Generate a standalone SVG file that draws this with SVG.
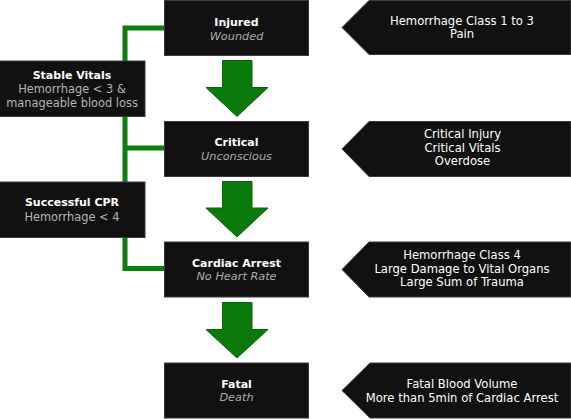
<svg xmlns="http://www.w3.org/2000/svg" width="571" height="419" viewBox="0 0 571 419">
<style>
.box{fill:#111111;stroke:#3a3a3a;stroke-width:1}
.t{font-family:"DejaVu Sans",sans-serif;font-size:11px;font-weight:bold;fill:#ffffff;text-anchor:middle}
.s{font-family:"DejaVu Sans",sans-serif;font-size:11.3px;font-style:italic;fill:#aaaaaa;text-anchor:middle}
.g{font-family:"DejaVu Sans",sans-serif;font-size:11.4px;fill:#b4b4b4;text-anchor:middle}
.w{font-family:"DejaVu Sans",sans-serif;font-size:11.6px;fill:#ffffff;text-anchor:middle}
.line{fill:none;stroke:#0b7f0b;stroke-width:5}
.arrow{fill:#0b790b;stroke:#0a640a;stroke-width:1}
</style>
<rect width="571" height="419" fill="#ffffff"/>
<g id="connectors">
<path class="line" d="M164 28 H125 V268.5 H164 M125 148 H164"/>
<polygon class="arrow" points="222.5,60.5 252,60.5 252,87.5 268,87.5 237,116.5 206,87.5 222.5,87.5"/>
<polygon class="arrow" points="222.5,181.5 252,181.5 252,208 268,208 237,237 206,208 222.5,208"/>
<polygon class="arrow" points="222.5,302.5 252,302.5 252,329.5 268,329.5 237,358 206,329.5 222.5,329.5"/>
</g>
<g id="injured">
<rect class="box" x="164.5" y="0.5" width="144" height="55"/>
<text class="t" x="236.5" y="26">Injured</text>
<text class="s" x="236.5" y="39.5">Wounded</text>
</g>
<g id="critical">
<rect class="box" x="164.5" y="121.5" width="144" height="55"/>
<text class="t" x="236.5" y="146">Critical</text>
<text class="s" x="236.5" y="159.5">Unconscious</text>
</g>
<g id="cardiac">
<rect class="box" x="164.5" y="242" width="144" height="55"/>
<text class="t" x="236.5" y="266.5">Cardiac Arrest</text>
<text class="s" x="236.5" y="280">No Heart Rate</text>
</g>
<g id="fatal">
<rect class="box" x="164.5" y="363" width="144" height="55"/>
<text class="t" x="236.5" y="387.5">Fatal</text>
<text class="s" x="236.5" y="401">Death</text>
</g>
<g id="stable">
<rect class="box" x="-1" y="61" width="146" height="55.5"/>
<text class="t" x="72" y="79">Stable Vitals</text>
<text class="g" x="72" y="93.3">Hemorrhage &lt; 3 &amp;</text>
<text class="g" x="72" y="107.3">manageable blood loss</text>
</g>
<g id="cpr">
<rect class="box" x="-1" y="182" width="146" height="55.5"/>
<text class="t" x="72" y="206">Successful CPR</text>
<text class="g" x="72" y="220.5">Hemorrhage &lt; 4</text>
</g>
<g id="r-injured">
<polygon class="box" points="369,0.5 571,0.5 571,54.5 369,54.5 342,27.5"/>
<text class="w" x="462" y="25">Hemorrhage Class 1 to 3</text>
<text class="w" x="462" y="37.5">Pain</text>
</g>
<g id="r-critical">
<polygon class="box" points="369,121.5 571,121.5 571,176.5 369,176.5 342,149"/>
<text class="w" x="462.5" y="138.3">Critical Injury</text>
<text class="w" x="462.5" y="151.7">Critical Vitals</text>
<text class="w" x="462.5" y="165">Overdose</text>
</g>
<g id="r-cardiac">
<polygon class="box" points="369,242 571,242 571,297 369,297 342,269.5"/>
<text class="w" x="462" y="259.3">Hemorrhage Class 4</text>
<text class="w" x="462" y="272.7">Large Damage to Vital Organs</text>
<text class="w" x="462" y="286">Large Sum of Trauma</text>
</g>
<g id="r-fatal">
<polygon class="box" points="370,363 571,363 571,418 370,418 342,390.5"/>
<text class="w" x="462" y="388.3">Fatal Blood Volume</text>
<text class="w" x="462" y="401.7">More than 5min of Cardiac Arrest</text>
</g>
</svg>
